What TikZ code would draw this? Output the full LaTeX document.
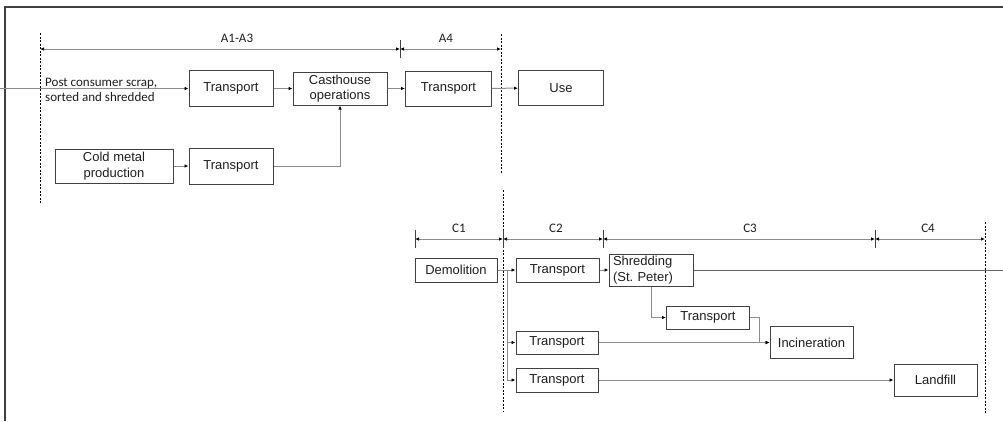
\documentclass[tikz,border=0pt]{standalone}
\usepackage{fontspec}
\setmainfont{Liberation Sans}
\newfontfamily\calib{Carlito}
\usetikzlibrary{arrows.meta}
\definecolor{boxc}{HTML}{404040}
\definecolor{linec}{HTML}{8C8C8C}
\definecolor{txtc}{HTML}{1E1E1E}
\tikzset{
  procbox/.style={draw=boxc, line width=1pt, text=txtc, align=center, inner sep=0pt,
    font=\fontsize{13}{15.5}\selectfont},
  conn/.style={draw=linec, line width=1pt, -{Latex[length=4pt,width=3.5pt,color=black]}},
  plain/.style={draw=linec, line width=1pt},
  dimline/.style={draw=linec, line width=1pt, {Latex[length=4pt,width=3.5pt,color=black]}-{Latex[length=4pt,width=3.5pt,color=black]}},
  tick/.style={draw=boxc, line width=1pt},
  bound/.style={draw=black, line width=0.8pt, dash pattern=on 2pt off 1.5pt},
  lbl/.style={text=txtc, font=\calib\fontsize{13}{15}\selectfont, inner sep=0pt},
}
\begin{document}
\begin{tikzpicture}[x=1pt,y=-1pt]
\useasboundingbox (0,0) rectangle (1003,421);
% frame
\draw[draw=boxc, line width=1.5pt] (1003,7) -- (5,7) -- (5,421);

% boundaries
\draw[bound] (40,33) -- (40,204);
\draw[bound] (501,34) -- (501,173);
\draw[bound] (503,190) -- (503,412);
\draw[bound] (985,222) -- (985,413);

% dimension lines top
\coordinate (a0) at (40,49);
\coordinate (a1) at (400,49);
\coordinate (a2) at (501,49);
\draw[dimline] (a0) -- (a1);
\draw[dimline] (a1) -- (a2);
\draw[tick] (400,40) -- (400,58);
\node[lbl] (lA13) at (237,38.5) {A1-A3};
\node[lbl] (lA4) at (446,38.5) {A4};

% dimension lines bottom
\coordinate (c0) at (415,239);
\coordinate (c1) at (503,239);
\coordinate (c2) at (603,239);
\coordinate (c3) at (875,239);
\coordinate (c4) at (985,239);
\draw[dimline] (c0) -- (c1);
\draw[dimline] (c1) -- (c2);
\draw[dimline] (c2) -- (c3);
\draw[dimline] (c3) -- (c4);
\draw[tick] (415,230) -- (415,248);
\draw[tick] (503,230) -- (503,248);
\draw[tick] (603,230) -- (603,248);
\draw[tick] (875,230) -- (875,248);
\node[lbl] (lC1) at (459,228) {C1};
\node[lbl] (lC2) at (556,228) {C2};
\node[lbl] (lC3) at (750,228) {C3};
\node[lbl] (lC4) at (928,228) {C4};

% top boxes
\node[procbox, minimum width=84pt, minimum height=36pt] (t1) at (231,88.5) {Transport};
\node[procbox, minimum width=94pt, minimum height=33pt] (cast) at (340,88.5) {Casthouse\\operations};
\node[procbox, minimum width=86pt, minimum height=35pt] (t2) at (448.5,88.5) {Transport};
\node[procbox, minimum width=85pt, minimum height=35pt] (use) at (561,88) {Use};
\node[procbox, minimum width=118pt, minimum height=34pt] (cold) at (114,166) {Cold metal\\production};
\node[procbox, minimum width=84pt, minimum height=36pt] (t3) at (231,166) {Transport};

\node[lbl, align=left, anchor=west] (pcs) at (45,89.5) {Post consumer scrap,\\sorted and shredded};

\coordinate (in) at (0,88.5);
\draw[conn] (in) -- (t1);
\draw[conn] (t1) -- (cast);
\draw[conn] (cast) -- (t2);
\draw[conn] (t2) -- (use);
\draw[conn] (cold) -- (t3);
\draw[conn] (t3.east) -| (cast.south);

% bottom boxes
\node[procbox, minimum width=82pt, minimum height=24pt] (demo) at (456,270) {Demolition};
\node[procbox, minimum width=83pt, minimum height=24pt] (tra) at (557.5,270) {Transport};
\node[procbox, minimum width=84pt, minimum height=32pt, text width=76pt, align=left] (shred) at (651,270) {Shredding\\(St.\ Peter)};
\node[procbox, minimum width=83pt, minimum height=23pt] (trc3) at (708,317.5) {Transport};
\node[procbox, minimum width=83pt, minimum height=32pt] (inc) at (811.5,342.5) {Incineration};
\node[procbox, minimum width=82pt, minimum height=23pt] (trb) at (557,342.5) {Transport};
\node[procbox, minimum width=82pt, minimum height=24pt] (trc) at (557,380) {Transport};
\node[procbox, minimum width=83pt, minimum height=32pt] (land) at (935.5,380) {Landfill};

\coordinate (j) at (507,270);
\coordinate (re) at (1003,270);
\coordinate (k) at (759,342.5);
\draw[conn] (demo) -- (tra);
\draw[conn] (j) |- (trb.west);
\draw[conn] (j) |- (trc.west);
\draw[conn] (tra) -- (shred);
\draw[plain, draw=boxc!80] (shred.east) -- (re);
\draw[conn] (shred.south) |- (trc3.west);
\draw[conn] (trc3.east) -| (k) -- (inc.west);
\draw[conn] (trb) -- (inc);
\draw[conn] (trc) -- (land);
\end{tikzpicture}
\end{document}
